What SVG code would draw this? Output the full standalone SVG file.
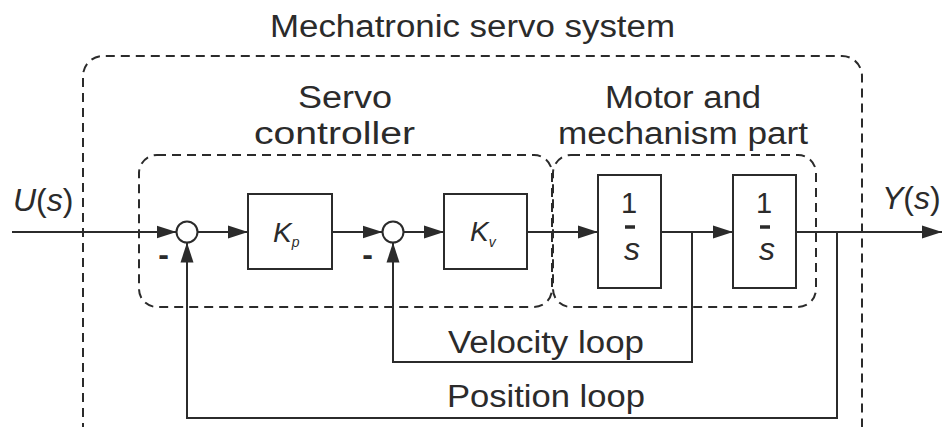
<svg xmlns="http://www.w3.org/2000/svg" width="942" height="427" viewBox="0 0 942 427">
<defs>
<marker id="arr" markerUnits="userSpaceOnUse" markerWidth="20" markerHeight="14" refX="20" refY="7" orient="auto">
<path d="M0,0.5 L20,7 L0,13.5 z" fill="#2b2b2b"/>
</marker>
<style>
.ln{fill:none;stroke:#2b2b2b;stroke-width:2}
.dash{fill:none;stroke:#2b2b2b;stroke-width:2;stroke-dasharray:9 6}
.blk{fill:#fff;stroke:#2b2b2b;stroke-width:2}
.bar{stroke:#2b2b2b;stroke-width:3.5}
.t{font-family:"Liberation Sans",Arial,sans-serif;fill:#2b2b2b}
.lbl{font-size:31px}
.it{font-style:italic}
.c{text-anchor:middle}
</style>
</defs>
<rect width="942" height="427" fill="#fff"/>

<g id="system-boundary">
<path class="dash" d="M83,432 V76 A20,20 0 0 1 103,56 H842 A20,20 0 0 1 862,76 V432"/>
<text class="t lbl" x="270" y="37" textLength="405" lengthAdjust="spacingAndGlyphs">Mechatronic servo system</text>
</g>

<g id="servo-controller">
<rect class="dash" x="139" y="155" width="413" height="152" rx="18"/>
<text class="t lbl" x="298" y="108" textLength="94" lengthAdjust="spacingAndGlyphs">Servo</text>
<text class="t lbl" x="254" y="144" textLength="161" lengthAdjust="spacingAndGlyphs">controller</text>
</g>

<g id="motor-mechanism">
<rect class="dash" x="553" y="155" width="263" height="152" rx="18"/>
<text class="t lbl" x="605" y="108" textLength="156" lengthAdjust="spacingAndGlyphs">Motor and</text>
<text class="t lbl" x="558" y="144" textLength="250" lengthAdjust="spacingAndGlyphs">mechanism part</text>
</g>

<g id="connectors">
<path class="ln" d="M12,232 H176.5" marker-end="url(#arr)"/>
<path class="ln" d="M197.5,232 H248" marker-end="url(#arr)"/>
<path class="ln" d="M332,232 H382.5" marker-end="url(#arr)"/>
<path class="ln" d="M403.5,232 H444" marker-end="url(#arr)"/>
<path class="ln" d="M527,232 H598" marker-end="url(#arr)"/>
<path class="ln" d="M661,232 H733" marker-end="url(#arr)"/>
<path class="ln" d="M796,232 H942" marker-end="url(#arr)"/>
<path class="ln" d="M692,232 V362 H393 V242.5" marker-end="url(#arr)"/>
<path class="ln" d="M837,232 V418 H187 V242.5" marker-end="url(#arr)"/>
</g>

<g id="input">
<text class="t" x="13" y="211" font-size="32"><tspan class="it">U</tspan>(<tspan class="it">s</tspan>)</text>
</g>

<g id="output">
<text class="t" x="882" y="209" font-size="32"><tspan class="it">Y</tspan>(<tspan class="it">s</tspan>)</text>
</g>

<g id="sum1">
<circle class="blk" cx="187" cy="232" r="10.5"/>
<text class="t c" x="163.5" y="265" font-size="32" font-weight="bold">-</text>
</g>

<g id="kp">
<rect class="blk" x="248" y="194" width="84" height="75"/>
<text class="t it" x="273" y="242" font-size="28">K<tspan font-size="14" dy="5">p</tspan></text>
</g>

<g id="sum2">
<circle class="blk" cx="393" cy="232" r="10.5"/>
<text class="t c" x="367.5" y="265" font-size="32" font-weight="bold">-</text>
</g>

<g id="kv">
<rect class="blk" x="444" y="194" width="83" height="75"/>
<text class="t it" x="470" y="241" font-size="28">K<tspan font-size="14" dy="6">v</tspan></text>
</g>

<g id="integrator1">
<rect class="blk" x="598" y="175" width="63" height="113"/>
<text class="t c" x="629" y="213" font-size="29">1</text>
<line class="bar" x1="625" y1="227" x2="635" y2="227"/>
<text class="t c it" x="632" y="260" font-size="32">s</text>
</g>

<g id="integrator2">
<rect class="blk" x="733" y="175" width="63" height="113"/>
<text class="t c" x="764" y="213" font-size="29">1</text>
<line class="bar" x1="760" y1="227" x2="770" y2="227"/>
<text class="t c it" x="767" y="260" font-size="32">s</text>
</g>

<g id="loop-labels">
<text class="t lbl" x="448" y="353" textLength="196" lengthAdjust="spacingAndGlyphs">Velocity loop</text>
<text class="t lbl" x="447" y="407" textLength="198" lengthAdjust="spacingAndGlyphs">Position loop</text>
</g>
</svg>
